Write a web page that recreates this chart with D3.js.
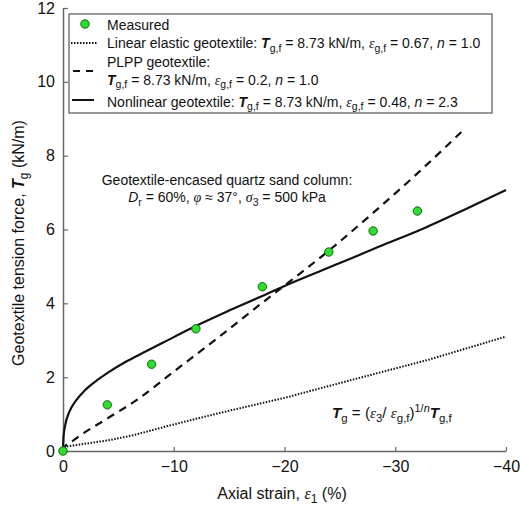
<!DOCTYPE html>
<html><head><meta charset="utf-8">
<script src="https://cdn.jsdelivr.net/npm/d3@7"></script>
<style>body{margin:0;background:#fff}svg{display:block}</style>
</head><body>
<svg id="c" width="520" height="509"></svg>
<script>
// ---- data ----
const xTicks = [0, -10, -20, -30, -40];
const yTicks = [0, 2, 4, 6, 8, 10, 12];
const measuredStrain  = [0, -4, -8, -12, -18, -24, -28, -32];
const measuredTension = [0, 1.25, 2.35, 3.31, 4.45, 5.39, 5.96, 6.5];
const linearStrain  = [0, -0.3, -4.3, -6.5, -10, -14, -20, -26, -33.1, -40];
const linearTension = [0, 0.12, 0.3, 0.44, 0.72, 1.02, 1.44, 1.92, 2.48, 3.1];
const plppStrain  = [0, -1, -4, -6.5, -10, -14, -17.8, -20, -24.7, -28, -32, -36];
const plppTension = [0.05, 0.3, 0.88, 1.35, 2.15, 3.07, 3.97, 4.48, 5.6, 6.45, 7.52, 8.65];
const nonlinStrain  = [0, -0.05, -0.2, -0.6, -1.2, -2, -3, -4.2, -5.75, -7.5, -9, -11.76, -14.77, -17.78, -20, -25, -28.5, -32.5, -36, -40];
const nonlinTension = [0, 0.4, 0.7, 1.08, 1.38, 1.65, 1.9, 2.15, 2.43, 2.7, 2.93, 3.35, 3.77, 4.17, 4.47, 5.09, 5.53, 6.02, 6.5, 7.07];

const SANS = "Arial, 'Liberation Sans', sans-serif";
const SERIF = "'Liberation Serif', 'Times New Roman', serif";

const svg = d3.select("#c");
const x = d3.scaleLinear().domain([0, -40]).range([63, 506]);
const y = d3.scaleLinear().domain([0, 12]).range([451, 8]);
const axisColor = "#666";

// rich text helper
function rich(sel, segs, size) {
  let shift = 0;
  segs.forEach(s => {
    const ts = sel.append("tspan").text(s.t);
    let target = 0, fs = size;
    if (s.sub) { target = size * 0.28; fs = size * 0.75; }
    if (s.sup) { target = -size * 0.4; fs = size * 0.72; }
    ts.attr("font-size", fs);
    if (target !== shift) { ts.attr("dy", target - shift); shift = target; }
    if (s.b) ts.attr("font-weight", "bold");
    if (s.i) ts.attr("font-style", "italic");
    if (s.serif) ts.attr("font-family", SERIF);
  });
}

// axes
const xAxis = svg.append("g").attr("transform", `translate(0,${y(0)})`)
  .call(d3.axisBottom(x).tickValues(xTicks).tickSizeInner(-4).tickSizeOuter(0).tickPadding(10)
    .tickFormat(d => d === 0 ? "0" : "\u2212" + Math.abs(d)));
const yAxis = svg.append("g").attr("transform", `translate(${x(0)},0)`)
  .call(d3.axisLeft(y).tickValues(yTicks).tickSizeInner(-5).tickSizeOuter(0).tickPadding(8));
[xAxis, yAxis].forEach(g => {
  g.select(".domain").attr("stroke", axisColor).attr("stroke-width", 1.5);
  g.selectAll(".tick line").attr("stroke", axisColor).attr("stroke-width", 1.2);
  g.selectAll(".tick text").attr("font-family", SANS).attr("font-size", 16).attr("fill", "#111");
});

// axis titles
const xt = svg.append("text").attr("x", 282).attr("y", 499).attr("text-anchor", "middle")
  .attr("font-family", SANS).attr("font-size", 16).attr("fill", "#111");
rich(xt, [{t: "Axial strain, "}, {t: "\u03b5", i: 1, serif: 1}, {t: "1", sub: 1}, {t: " (%)"}], 16);

const yt = svg.append("text").attr("transform", "translate(24,243) rotate(-90)").attr("text-anchor", "middle")
  .attr("font-family", SANS).attr("font-size", 16).attr("fill", "#111");
rich(yt, [{t: "Geotextile tension force, "}, {t: "T", b: 1, i: 1}, {t: "g", sub: 1}, {t: " (kN/m)"}], 16);

// lines
const line = d3.line().x(d => x(d[0])).y(d => y(d[1]));
const smooth = d3.line().curve(d3.curveMonotoneX).x(d => x(d[0])).y(d => y(d[1]));
const zip = (a, b) => a.map((v, i) => [v, b[i]]);
svg.append("path").datum(zip(linearStrain, linearTension)).attr("d", line)
  .attr("fill", "none").attr("stroke", "#111").attr("stroke-width", 2).attr("stroke-dasharray", "1.5,1.5");
svg.append("path").datum([[0, 0]].concat(zip(plppStrain, plppTension))).attr("d", smooth)
  .attr("fill", "none").attr("stroke", "#111").attr("stroke-width", 2.2).attr("stroke-dasharray", "8,6");
svg.append("path").datum(zip(nonlinStrain, nonlinTension)).attr("d", smooth)
  .attr("fill", "none").attr("stroke", "#111").attr("stroke-width", 2.2);

// points
svg.append("g").selectAll("circle").data(zip(measuredStrain, measuredTension)).join("circle")
  .attr("cx", d => x(d[0])).attr("cy", d => y(d[1])).attr("r", 4.2)
  .attr("fill", "#2fdc2f").attr("stroke", "#0b6b0b").attr("stroke-width", 1);

// legend
const lg = svg.append("g");
lg.append("rect").attr("x", 69).attr("y", 14).attr("width", 423).attr("height", 99)
  .attr("fill", "#fff").attr("stroke", "#555").attr("stroke-width", 1.2);
lg.append("circle").attr("cx", 85).attr("cy", 24).attr("r", 4.2)
  .attr("fill", "#2fdc2f").attr("stroke", "#0b6b0b").attr("stroke-width", 1);
lg.append("line").attr("x1", 71).attr("x2", 98).attr("y1", 43).attr("y2", 43)
  .attr("stroke", "#111").attr("stroke-width", 2).attr("stroke-dasharray", "1.5,1.5");
lg.append("line").attr("x1", 73).attr("x2", 93).attr("y1", 71).attr("y2", 71)
  .attr("stroke", "#111").attr("stroke-width", 2.2).attr("stroke-dasharray", "7,6");
lg.append("line").attr("x1", 72).attr("x2", 94).attr("y1", 100).attr("y2", 100)
  .attr("stroke", "#111").attr("stroke-width", 2);
const LFS = 14;
const lt = (yy, segs) => rich(lg.append("text").attr("x", 107).attr("y", yy)
  .attr("font-family", SANS).attr("font-size", LFS).attr("fill", "#111"), segs, LFS);
lt(30, [{t: "Measured"}]);
lt(48, [{t: "Linear elastic geotextile: "}, {t: "T", b: 1, i: 1}, {t: "g,f", sub: 1}, {t: " = 8.73 kN/m, "},
  {t: "\u03b5", i: 1, serif: 1}, {t: "g,f", sub: 1}, {t: " = 0.67, "}, {t: "n", i: 1}, {t: " = 1.0"}]);
lt(67, [{t: "PLPP geotextile:"}]);
lt(84.5, [{t: "T", b: 1, i: 1}, {t: "g,f", sub: 1}, {t: " = 8.73 kN/m, "},
  {t: "\u03b5", i: 1, serif: 1}, {t: "g,f", sub: 1}, {t: " = 0.2, "}, {t: "n", i: 1}, {t: " = 1.0"}]);
lt(106.5, [{t: "Nonlinear geotextile: "}, {t: "T", b: 1, i: 1}, {t: "g,f", sub: 1}, {t: " = 8.73 kN/m, "},
  {t: "\u03b5", i: 1, serif: 1}, {t: "g,f", sub: 1}, {t: " = 0.48, "}, {t: "n", i: 1}, {t: " = 2.3"}]);

// annotation
const AFS = 14;
const an1 = svg.append("text").attr("x", 227).attr("y", 185).attr("text-anchor", "middle")
  .attr("font-family", SANS).attr("font-size", AFS).attr("fill", "#111");
rich(an1, [{t: "Geotextile-encased quartz sand column:"}], AFS);
const an2 = svg.append("text").attr("x", 227).attr("y", 202).attr("text-anchor", "middle")
  .attr("font-family", SANS).attr("font-size", AFS).attr("fill", "#111");
rich(an2, [{t: "D", i: 1}, {t: "r", sub: 1}, {t: " = 60%, "}, {t: "\u03c6", i: 1, serif: 1}, {t: " \u2248 37\u00b0, "},
  {t: "\u03c3", i: 1, serif: 1}, {t: "3", sub: 1}, {t: " = 500 kPa"}], AFS);

// formula
const FFS = 15.2;
const fm = svg.append("text").attr("x", 332).attr("y", 418)
  .attr("font-family", SANS).attr("font-size", FFS).attr("fill", "#111");
rich(fm, [{t: "T", b: 1, i: 1}, {t: "g", sub: 1}, {t: " = ("}, {t: "\u03b5", i: 1, serif: 1}, {t: "3", sub: 1},
  {t: "/ "}, {t: "\u03b5", i: 1, serif: 1}, {t: "g,f", sub: 1}, {t: ")"}, {t: "1/", sup: 1}, {t: "n", sup: 1, i: 1},
  {t: "T", b: 1, i: 1}, {t: "g,f", sub: 1}], FFS);
</script>
</body></html>
